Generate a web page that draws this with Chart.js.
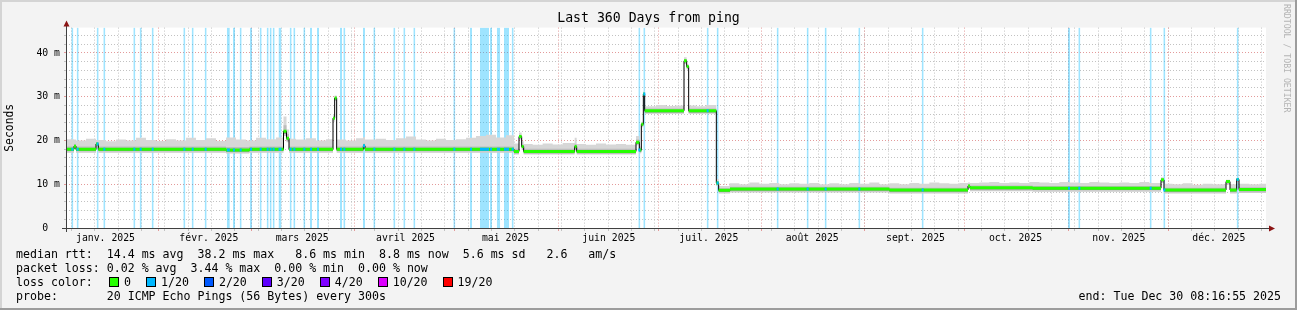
<!DOCTYPE html>
<html><head><meta charset="utf-8">
<script src="https://cdn.jsdelivr.net/npm/chart.js@4.4.1/dist/chart.umd.min.js"></script>
<style>
html,body{margin:0;padding:0;background:#f3f3f3;}
#wrap{position:relative;width:1297px;height:310px;overflow:hidden;}
canvas{position:absolute;left:0;top:0;}
.t{position:absolute;font-family:'DejaVu Sans Mono',monospace;font-size:11.6px;line-height:14px;white-space:pre;color:#000;}
.sw{display:inline-block;width:8px;height:8px;border:1px solid #000;vertical-align:-1px;margin-right:5px;}
.lab{margin-right:15px;}
#wm{position:absolute;left:1282px;top:4px;writing-mode:vertical-rl;font-family:'DejaVu Sans Mono',monospace;font-size:8.2px;color:#b4b4b4;white-space:pre;}
</style></head>
<body>
<div id="wrap">
<canvas id="c" width="1297" height="310"></canvas>
<div id="wm">RRDTOOL / TOBI OETIKER</div>
<div class="t" id="l1" style="left:16px;top:247px"></div>
<div class="t" id="l2" style="left:16px;top:261px"></div>
<div class="t" id="l3" style="left:16px;top:275px"></div>
<div class="t" id="l3b" style="left:109px;top:275px"></div>
<div class="t" id="l4" style="left:16px;top:289px"></div>
<div class="t" id="l5" style="right:16px;top:289px"></div>
</div>
<script>
// ---------- data ----------
const TITLE = 'Last 360 Days from ping';
const Y_TITLE = 'Seconds';
const X_DAYS = 360;
const Y_MAX = 45.8;
const START_UTC = Date.UTC(2025, 0, 4, 8, 16, 55);
const monthLabels = ['janv. 2025','févr. 2025','mars 2025','avril 2025','mai 2025','juin 2025','juil. 2025','août 2025','sept. 2025','oct. 2025','nov. 2025','déc. 2025'];
const yLabelTicks = [0, 10, 20, 30, 40];
const yLabelTexts = ['0  ', '10 m', '20 m', '30 m', '40 m'];

// median rtt (ms), step values starting at given day
const medianDays = [0,2.4,3.0,9.0,9.7,48.0,55.0,65.25,66.15,66.9,80.1,80.6,81.2,89.2,89.7,134.4,135.9,136.7,137.3,152.6,153.2,171.0,172.0,172.6,173.2,173.6,185.4,186.2,186.8,195.1,195.8,199.2,247.0,270.6,271.2,290.0,328.5,329.4,348.0,349.2,351.2,351.9,360];
const medianVals = [18.0,18.7,18.0,19.2,18.0,17.8,18.0,22.1,20.5,18.0,25.1,29.7,18.0,18.8,18.0,17.5,20.9,18.6,17.5,18.6,17.5,19.6,17.8,23.7,30.6,26.8,38.2,36.9,26.8,10.3,8.6,8.9,8.7,9.6,9.2,9.1,11.0,8.7,10.6,8.7,11.1,8.8,8.8];
const smokeMidVals = [18.6,19.2,18.6,19.6,18.6,18.5,18.6,23.5,21.5,18.6,25.5,30.0,18.6,19.3,18.6,18.1,21.3,19.0,18.1,19.2,18.1,20.2,18.3,24.0,30.9,27.3,38.6,37.2,27.3,10.7,9.1,9.4,9.2,10.0,9.7,9.6,11.3,9.2,10.9,9.2,11.4,9.3,9.3];
const smokeLowDarkVals = [17.6,18.3,17.6,18.8,17.6,17.4,17.6,21.5,20.0,17.6,24.7,29.3,17.6,18.4,17.6,17.1,20.5,18.2,17.1,18.2,17.1,19.2,17.4,23.3,30.2,26.4,37.8,36.5,26.4,9.9,8.2,8.5,8.3,9.2,8.8,8.7,10.6,8.3,10.2,8.3,10.7,8.4,8.4];
const smokeLowLightVals = [17.2,18.0,17.2,18.4,17.2,17.0,17.2,21.0,19.6,17.2,24.3,29.0,17.2,18.0,17.2,16.8,20.2,17.9,16.8,17.9,16.8,18.9,17.1,23.0,29.9,26.1,37.5,36.2,26.1,9.6,7.9,8.1,7.9,8.9,8.4,8.3,10.3,7.9,9.9,7.9,10.4,8.0,8.0];

// upper edge of the smoke (slowest pings)
const smokeDays = [0,2.4,3,6,9,12,15,18,21,24,27,30,33,36,39,42,45,48,51,54,57,60,63,65.25,66.15,66.9,69,72,75,78,80.1,80.6,81.2,84,87,89.2,89.7,93,96,99,102,105,108,111,114,117,120,123,126,129,132,134.4,135.9,136.7,137.3,140,143,146,149,152.6,153.2,156,159,162,165,168,171.0,172.0,172.6,173.2,173.6,177,180,183,185.4,186.2,186.8,189,192,195.1,195.8,199,202,205,208,211,214,217,220,223,226,229,232,235,238,241,244,247,250,253,256,259,262,265,268,270.6,271.2,274,277,280,283,286,289,292,295,298,301,304,307,310,313,316,319,322,325,328.5,329.4,332,335,338,341,344,348.0,349.2,351.2,351.9,355,358,360];
const smokeTopVals = [20.3,20.2,20.0,20.4,20.1,19.8,20.2,20.0,20.6,20.1,19.9,20.3,20.0,20.6,20.1,20.5,19.9,20.7,20.2,20.0,20.6,20.3,20.7,25.5,22.5,20.4,20.2,20.5,20.0,20.3,26.0,30.3,20.2,20.0,20.5,20.8,20.2,20.4,20.1,20.5,20.9,20.2,20.0,20.4,20.1,20.3,20.6,21.0,21.3,20.7,21.2,19.3,21.8,19.8,19.2,19.0,19.3,19.1,19.4,20.6,19.2,19.0,19.3,19.1,19.2,19.0,21.0,18.6,24.3,31.2,27.8,28.1,27.9,28.0,39.0,37.5,28.0,27.8,28.1,11.2,9.6,10.2,10.0,10.4,10.1,10.3,10.0,10.2,10.1,10.3,10.0,10.2,10.0,10.3,10.1,10.4,10.0,10.2,10.0,10.3,10.1,10.4,10.2,10.1,10.3,10.4,10.3,10.4,10.5,10.3,10.4,10.3,10.5,10.4,10.3,10.5,10.4,10.3,10.5,10.4,10.3,10.4,10.3,10.5,10.3,11.6,10.1,10.0,10.2,9.9,10.1,10.0,11.0,10.0,11.5,10.1,10.0,10.1,10.1];

// packet loss events (day centre, width in days)
const lossDays = [1.9,3.5,9.5,11.5,20.5,22.4,26.0,35.5,38.0,41.9,48.7,50.4,52.4,55.5,58.4,60.5,61.4,62.3,64.2,67.4,68.5,71.5,73.5,75.6,82.5,83.5,89.4,92.5,98.5,101.5,104.5,116.5,121.5,125.55,127.5,129.75,132.15,134.0,172.0,173.5,192.5,195.5,213.5,222.5,227.9,238.0,257.0,300.9,304.0,325.4,329.5,351.5];
const lossWidths = [0.6,0.6,0.6,0.6,0.6,0.6,0.6,0.6,0.6,0.6,0.9,0.6,0.6,0.6,0.6,0.6,0.6,0.6,0.9,0.6,0.6,0.6,0.6,0.6,0.6,0.6,0.6,0.6,0.6,0.6,0.6,0.6,0.6,2.7,0.6,1.0,1.5,0.6,0.6,0.6,0.6,0.6,0.6,0.6,0.6,0.6,0.6,0.6,0.6,0.6,0.6,0.6];

const lossColorLabels = ['0','1/20','2/20','3/20','4/20','10/20','19/20'];
const lossColors = ['#26ff00','#00b8ff','#0059ff','#5e00ff','#7e00ff','#dd00ff','#ff0000'];
const legendRtt = 'median rtt:  14.4 ms avg  38.2 ms max   8.6 ms min  8.8 ms now  5.6 ms sd   2.6   am/s';
const legendLoss = 'packet loss: 0.02 % avg  3.44 % max  0.00 % min  0.00 % now';
const legendProbe = 'probe:       20 ICMP Echo Pings (56 Bytes) every 300s';
const legendEnd = 'end: Tue Dec 30 08:16:55 2025';

// ---------- legend text ----------
document.getElementById('l1').textContent = legendRtt;
document.getElementById('l2').textContent = legendLoss;
document.getElementById('l3').textContent = 'loss color:';
document.getElementById('l4').textContent = legendProbe;
document.getElementById('l5').textContent = legendEnd;
const l3b = document.getElementById('l3b');
lossColorLabels.forEach((lab, i) => {
  const s = document.createElement('span'); s.className = 'sw'; s.style.background = lossColors[i]; l3b.appendChild(s);
  const t = document.createElement('span'); t.className = 'lab'; t.textContent = lab; l3b.appendChild(t);
});

// ---------- helpers ----------
const DAY = 86400000;
const xTicks = [];
for (let t = Date.UTC(2025, 0, 6); t < START_UTC + X_DAYS * DAY; t += 7 * DAY) {
  xTicks.push({ value: (t - START_UTC) / DAY, type: 'week', label: '' });
}
for (let m = 0; m < 12; m++) {
  const d = (Date.UTC(2025, m, 1) - START_UTC) / DAY;
  if (d > 0) xTicks.push({ value: d, type: 'month', label: '' });
  xTicks.push({ value: d + 15.2, type: 'label', label: monthLabels[m] });
}
xTicks.sort((a, b) => a.value - b.value || (a.type === 'month' ? 1 : -1));

function stepAt(day) {
  let v = medianVals[0];
  for (let i = 0; i < medianDays.length; i++) { if (medianDays[i] <= day) v = medianVals[i]; else break; }
  return v;
}
const pts = (xs, ys) => xs.map((x, i) => ({ x, y: ys[i] }));

const lossBandData = [], lossMarkData = [];
lossDays.forEach((c, i) => {
  const s = c - lossWidths[i] / 2, e = c + lossWidths[i] / 2;
  lossBandData.push({ x: s, y: Y_MAX }, { x: e, y: Y_MAX }, { x: e, y: null });
  const v = stepAt(c);
  lossMarkData.push({ x: s, y: v }, { x: e, y: v }, { x: e, y: null });
});
const greenData = [];
for (let i = 0; i < medianDays.length - 1; i++) {
  greenData.push({ x: medianDays[i], y: medianVals[i] }, { x: medianDays[i + 1], y: medianVals[i] }, { x: medianDays[i + 1], y: null });
}
const NONE = 'rgba(0,0,0,0)';
const GRID_MINOR = '#c2c2c2';
const GRID_MAJOR = '#e39a9a';

const frame = {
  id: 'frame',
  beforeDraw(chart) {
    const { ctx, chartArea: a, width: W, height: H } = chart;
    ctx.save();
    ctx.fillStyle = '#f3f3f3'; ctx.fillRect(0, 0, W, H);
    ctx.fillStyle = '#d4d4d4'; ctx.fillRect(0, 0, W, 2); ctx.fillRect(0, 0, 2, H);
    ctx.fillStyle = '#9c9c9c'; ctx.fillRect(0, H - 2, W, 2); ctx.fillRect(W - 2, 0, 2, H);
    ctx.fillStyle = '#ffffff'; ctx.fillRect(a.left, a.top, a.right - a.left, a.bottom - a.top);
    ctx.restore();
  },
  afterDraw(chart) {
    const { ctx, chartArea: a } = chart;
    ctx.save();
    ctx.strokeStyle = '#404040'; ctx.lineWidth = 1;
    ctx.beginPath();
    ctx.moveTo(a.left - 4, a.bottom + 0.5); ctx.lineTo(a.right + 4, a.bottom + 0.5);
    ctx.moveTo(a.left + 0.5, a.bottom + 4); ctx.lineTo(a.left + 0.5, a.top - 3);
    ctx.stroke();
    ctx.fillStyle = '#8b1414';
    ctx.beginPath();
    ctx.moveTo(a.left + 0.5, a.top - 7); ctx.lineTo(a.left - 2.5, a.top - 1); ctx.lineTo(a.left + 3.5, a.top - 1); ctx.closePath(); ctx.fill();
    ctx.beginPath();
    ctx.moveTo(a.right + 9, a.bottom + 0.5); ctx.lineTo(a.right + 3, a.bottom - 2.5); ctx.lineTo(a.right + 3, a.bottom + 3.5); ctx.closePath(); ctx.fill();
    ctx.restore();
  }
};

Chart.defaults.font.family = "'DejaVu Sans Mono', monospace";
Chart.defaults.color = '#000';

new Chart(document.getElementById('c'), {
  type: 'line',
  data: {
    datasets: [
      { label: 'loss', data: lossBandData, order: 10, borderColor: NONE, borderWidth: 0, backgroundColor: 'rgba(0,184,255,0.38)', fill: 'origin', pointRadius: 0 },
      { label: 'median', data: pts(medianDays, medianVals), order: 3, stepped: true, borderColor: '#000', borderWidth: 1, fill: false, pointRadius: 0 },
      { label: 'smoke top', data: pts(smokeDays, smokeTopVals), order: 9, stepped: true, borderColor: NONE, borderWidth: 0, backgroundColor: '#d7d7d7', fill: { target: 1 }, pointRadius: 0 },
      { label: 'smoke mid', data: pts(medianDays, smokeMidVals), order: 8, stepped: true, borderColor: NONE, borderWidth: 0, backgroundColor: '#bdbdbd', fill: { target: 1 }, pointRadius: 0 },
      { label: 'smoke low light', data: pts(medianDays, smokeLowLightVals), order: 7, stepped: true, borderColor: NONE, borderWidth: 0, backgroundColor: '#cccccc', fill: { target: 1 }, pointRadius: 0 },
      { label: 'smoke low dark', data: pts(medianDays, smokeLowDarkVals), order: 6, stepped: true, borderColor: NONE, borderWidth: 0, backgroundColor: '#8f8f8f', fill: { target: 1 }, pointRadius: 0 },
      { label: 'median 0 loss', data: greenData, order: 2, borderColor: '#26ff00', borderWidth: 3, borderCapStyle: 'butt', fill: false, pointRadius: 0 },
      { label: 'median 1/20 loss', data: lossMarkData, order: 1, borderColor: '#00b8ff', borderWidth: 3, borderCapStyle: 'butt', fill: false, pointRadius: 0 }
    ]
  },
  options: {
    responsive: false, animation: false, devicePixelRatio: 1,
    layout: { padding: 0 },
    plugins: {
      legend: { display: false }, tooltip: { enabled: false },
      title: { display: true, text: TITLE, color: '#000', font: { size: 13.2, weight: 'normal', family: "'DejaVu Sans Mono', monospace" }, padding: { top: 11, bottom: 0.76 } }
    },
    scales: {
      x: {
        type: 'linear', min: 0, max: X_DAYS,
        afterBuildTicks: s => { s.ticks = xTicks.map(t => ({ value: t.value })); },
        afterFit: s => { s.height = 82; },
        ticks: { autoSkip: false, maxRotation: 0, minRotation: 0, padding: 1.5, font: { size: 9.8 }, color: '#000', callback: (v, i) => xTicks[i] ? xTicks[i].label : '' },
        grid: {
          color: c => { const t = xTicks[c.index]; return !t || t.type === 'label' ? NONE : (t.type === 'month' ? GRID_MAJOR : GRID_MINOR); },
          tickLength: 3, lineWidth: 1
        },
        border: { display: false, dash: [1, 2] }
      },
      y: {
        type: 'linear', min: 0, max: Y_MAX,
        afterBuildTicks: s => { const a = []; for (let v = 0; v <= 44; v += 2) a.push({ value: v }); s.ticks = a; },
        afterFit: s => { s.width = 66; },
        ticks: { autoSkip: false, padding: 4, font: { size: 9.8 }, color: '#000', callback: v => { const k = yLabelTicks.indexOf(v); return k >= 0 ? yLabelTexts[k] : ''; } },
        grid: {
          color: c => { const v = c.tick ? c.tick.value : -1; return v === 0 ? NONE : (v % 10 === 0 ? GRID_MAJOR : GRID_MINOR); },
          tickLength: 2, lineWidth: 1
        },
        border: { display: false, dash: [1, 2] },
        title: { display: true, text: Y_TITLE, color: '#000', font: { size: 11.4 }, padding: { top: 3, bottom: 0 } }
      },
      y2: {
        type: 'linear', position: 'right', display: true,
        afterFit: s => { s.width = 31; },
        ticks: { display: false }, grid: { display: false }, border: { display: false }
      }
    }
  },
  plugins: [frame]
});
</script>
</body></html>
